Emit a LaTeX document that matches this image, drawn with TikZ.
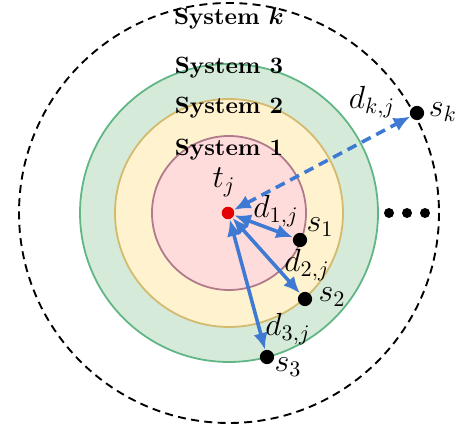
\documentclass[tikz,border=0pt]{standalone}
\usepackage{amsmath,amssymb}
\usepackage{tikz}
\usetikzlibrary{arrows.meta,positioning}
\definecolor{pinkfill}{RGB}{255,220,220}
\definecolor{pinkline}{RGB}{176,122,140}
\definecolor{yellowfill}{RGB}{255,242,206}
\definecolor{yellowline}{RGB}{212,186,110}
\definecolor{greenfill}{RGB}{213,234,216}
\definecolor{greenline}{RGB}{96,182,132}
\definecolor{arrowblue}{RGB}{62,122,212}

\begin{document}
\begin{tikzpicture}[x=0.45pt, y=-0.45pt,
    system/.style={line width=0.8pt},
    sensor/.style={circle, fill=black, inner sep=0pt, minimum size=6.4pt},
    dist/.style={<->, line width=1.6pt, arrowblue,
                 >={Latex[length=7.5pt,width=6.5pt]}},
    lbl/.style={font=\Large, inner sep=0.5pt},
    syslabel/.style={font=\fontsize{10.6}{12}\selectfont\bfseries}]
    \useasboundingbox (0,0) rectangle (458,425);

    % Systems
    \draw[system, fill=greenfill, draw=greenline] (229,213) circle[radius=149];
    \draw[system, fill=yellowfill, draw=yellowline] (229,213) circle[radius=114];
    \draw[system, fill=pinkfill, draw=pinkline] (229,213) circle[radius=77];
    \draw[line width=0.85pt, dash pattern=on 3.6pt off 2.4pt] (229,213) circle[radius=210];

    \node[syslabel] (lk) at (229,18) {System $\boldsymbol{k}$};
    \node[syslabel] (l3) at (229,68) {System 3};
    \node[syslabel] (l2) at (229,108) {System 2};
    \node[syslabel] (l1) at (229,150) {System 1};

    % Target and sensors
    \node[circle, fill=red!90!black, inner sep=0pt, minimum size=5.6pt] (tj) at (228,213) {};
    \node[sensor] (s1) at (300,240) {};
    \node[sensor] (s2) at (305,299) {};
    \node[sensor] (s3) at (267,357) {};
    \node[sensor] (sk) at (417,113) {};

    % Distances
    \draw[dist] (tj) -- (s1);
    \draw[dist] (tj) -- (s2);
    \draw[dist] (tj) -- (s3);
    \draw[dist, dash pattern=on 4.5pt off 2.8pt] (tj) -- (sk);

    % Labels
    \node[lbl] (ltj) at (224,182) {$t_j$};
    \node[lbl] (ld1) at (276,211) {$d_{1,j}$};
    \node[lbl] (ls1) at (320,227) {$s_1$};
    \node[lbl] (ld2) at (307,265) {$d_{2,j}$};
    \node[lbl] (ls2) at (332,297) {$s_2$};
    \node[lbl] (ld3) at (288,329) {$d_{3,j}$};
    \node[lbl] (ls3) at (288,367) {$s_3$};
    \node[lbl] (ldk) at (372,102) {$d_{k,j}$};
    \node[lbl] (lsk) at (443,112) {$s_k$};

    \foreach \x in {389,407,425} {
        \fill (\x,213) circle[radius=5];
    }
\end{tikzpicture}
\end{document}
